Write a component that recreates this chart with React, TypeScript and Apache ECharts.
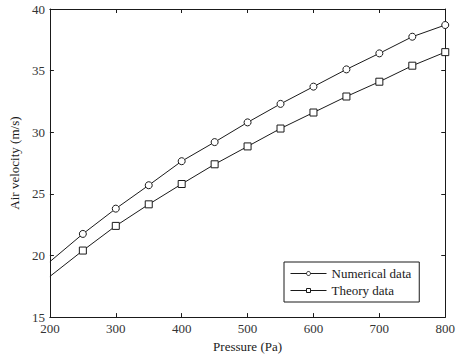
import React, { useEffect, useRef } from "react";
import * as echarts from "echarts";

const pressures = [200, 250, 300, 350, 400, 450, 500, 550, 600, 650, 700, 750, 800];
const numericalData = [19.5, 21.75, 23.8, 25.7, 27.65, 29.2, 30.8, 32.3, 33.7, 35.1, 36.4, 37.75, 38.7];
const theoryData = [18.3, 20.4, 22.4, 24.15, 25.8, 27.4, 28.85, 30.3, 31.6, 32.9, 34.1, 35.4, 36.5];
const seriesNames = ["Numerical data", "Theory data"];

const FONT = "Liberation Serif";
const INK = "#1a1a1a";

export default function App() {
  const ref = useRef<HTMLDivElement>(null);
  useEffect(() => {
    if (!ref.current) return;
    const chart = echarts.init(ref.current, undefined, { renderer: "svg" });
    const mk = (vals: number[]) =>
      pressures.map((p, i) =>
        i === 0 ? { value: [p, vals[i]], symbol: "none" } : { value: [p, vals[i]] }
      );
    const axisCommon = {
      axisLine: { show: true, lineStyle: { color: INK, width: 1 } },
      axisTick: { show: true, inside: true, length: 4, lineStyle: { color: INK } },
      splitLine: { show: false },
    };
    chart.setOption({
      animation: false,
      backgroundColor: "#ffffff",
      grid: { left: 48.5, top: 9, right: 11.5, bottom: 35 },
      legend: {
        orient: "vertical",
        left: 284,
        top: 262,
        width: 131,
        borderColor: INK,
        borderWidth: 1,
        borderRadius: 0,
        padding: [5, 8, 5, 6],
        itemWidth: 36,
        itemHeight: 5,
        itemGap: 4,
        lineStyle: { width: 1, color: INK },
        itemStyle: { color: "#ffffff", borderColor: INK, borderWidth: 1 },
        textStyle: { fontFamily: FONT, fontSize: 13, color: INK },
        data: seriesNames,
      },
      xAxis: [
        {
          type: "value",
          min: 200,
          max: 800,
          interval: 100,
          ...axisCommon,
          axisLabel: { fontFamily: FONT, fontSize: 13, color: "#333", margin: 5 },
          name: "Pressure (Pa)",
          nameLocation: "middle",
          nameGap: 22,
          nameTextStyle: { fontFamily: FONT, fontSize: 13, color: INK },
        },
        {
          type: "value",
          position: "top",
          min: 200,
          max: 800,
          interval: 100,
          ...axisCommon,
          axisLabel: { show: false },
        },
      ],
      yAxis: [
        {
          type: "value",
          min: 15,
          max: 40,
          interval: 5,
          ...axisCommon,
          axisLabel: { fontFamily: FONT, fontSize: 13, color: "#333", margin: 5 },
          name: "Air velocity (m/s)",
          nameLocation: "middle",
          nameGap: 28,
          nameRotate: 90,
          nameTextStyle: { fontFamily: FONT, fontSize: 13, color: INK },
        },
        {
          type: "value",
          position: "right",
          min: 15,
          max: 40,
          interval: 5,
          ...axisCommon,
          axisLabel: { show: false },
        },
      ],
      series: [
        {
          name: seriesNames[0],
          type: "line",
          data: mk(numericalData),
          symbol: "circle",
          symbolSize: 7,
          showAllSymbol: true,
          lineStyle: { color: INK, width: 1 },
          itemStyle: { color: "#ffffff", borderColor: INK, borderWidth: 1 },
          emphasis: { disabled: true },
        },
        {
          name: seriesNames[1],
          type: "line",
          data: mk(theoryData),
          symbol: "rect",
          symbolSize: 7,
          showAllSymbol: true,
          lineStyle: { color: INK, width: 1 },
          itemStyle: { color: "#ffffff", borderColor: INK, borderWidth: 1 },
          emphasis: { disabled: true },
        },
      ],
    });
    return () => chart.dispose();
  }, []);
  return <div ref={ref} style={{ width: 458, height: 358, position: "fixed", left: 0, top: 0 }} />;
}
